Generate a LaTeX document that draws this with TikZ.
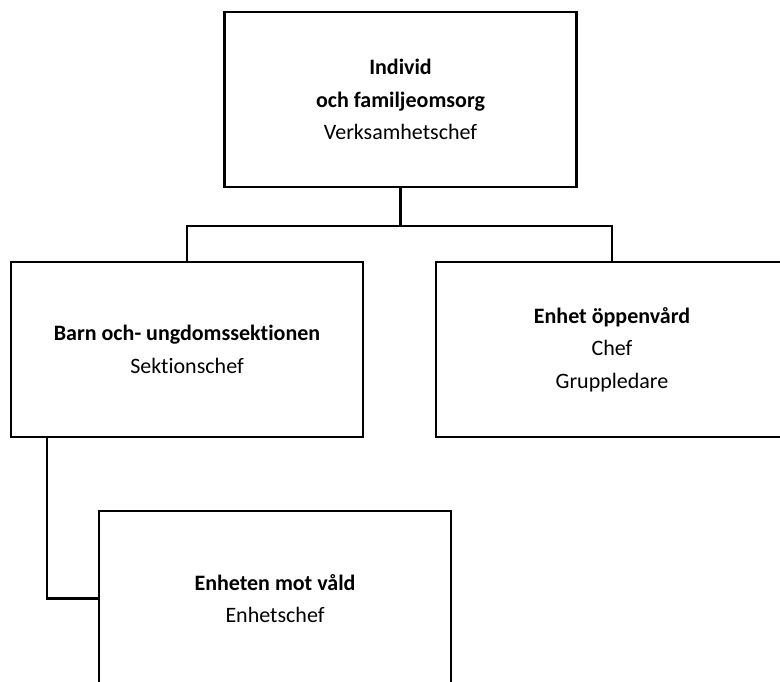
\documentclass[tikz,border=0pt]{standalone}
\usepackage{fontspec}
\setmainfont{Carlito}[Ligatures=NoCommon]
\begin{document}
\begin{tikzpicture}[x=1pt,y=-1pt,
  orgbox/.style={draw=black, line width=2.3pt, fill=white, minimum width=352pt, minimum height=175pt,
    inner sep=0pt, align=center, font=\fontsize{22}{32.5}\selectfont},
  conn/.style={draw=black, line width=2.3pt}]
\useasboundingbox (0,0) rectangle (780,682);
\clip (0,0) rectangle (780,682);
\node[orgbox] (top) at (400.5,99.5) {\textbf{Individ}\\\textbf{och familjeomsorg}\\Verksamhetschef};
\node[orgbox] (left) at (187,349.5) {\textbf{Barn och- ungdomssektionen}\\Sektionschef};
\node[orgbox] (right) at (612,349.5) {\textbf{Enhet öppenvård}\\Chef\\Gruppledare};
\node[orgbox] (bottom) at (275,598.5) {\textbf{Enheten mot våld}\\Enhetschef};
\coordinate (j) at (400.5,226);
\coordinate (lb) at (47,437);
\draw[conn] (top.south) -- (j);
\draw[conn] (left.north) |- (j) -| (right.north);
\draw[conn] (lb) |- (bottom.west);
\end{tikzpicture}
\end{document}
